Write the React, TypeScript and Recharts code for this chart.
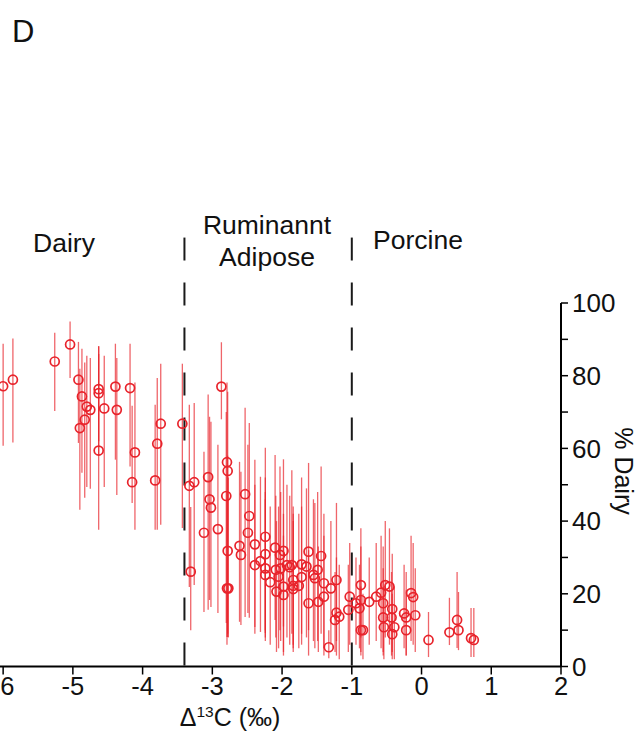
import React from "react"
import { ScatterChart, Scatter, XAxis, YAxis, ErrorBar, ReferenceLine } from "recharts"

const FONT = "'Liberation Sans', Arial, Helvetica, sans-serif"
const RED = "#e8232b"

// Δ13C (‰) per sample
const xs = [
  -6.0, -5.86, -5.26, -5.04, -4.92, -4.87, -4.8, -4.75, -4.83, -4.9, -4.63, -4.63, -4.63, -4.55, -4.39, -4.37, -4.18, -4.11,
  -4.15, -3.82, -3.79, -3.74, -3.43,
  -2.87, -3.33, -3.26, -3.31, -3.06, -3.04, -3.02, -3.12, -2.92, -2.79, -2.78, -2.8, -2.78, -2.79, -2.77, -2.53, -2.47, -2.49,
  -2.61, -2.59, -2.39, -2.24, -2.39, -2.31, -2.24, -2.24, -2.24, -2.17, -2.1, -2.09, -2.08, -2.03, -1.98, -2.02, -2.05, -1.98,
  -1.98, -1.93, -1.86, -1.89, -1.84, -1.84, -1.84, -1.76, -1.72, -1.65, -1.72, -1.62, -1.62, -1.55, -1.53, -1.49, -1.44, -1.48,
  -1.4, -1.4, -1.3, -1.22, -1.22, -1.18, -1.24, -1.33,
  -1.03, -1.05, -0.94, -0.89, -0.87, -0.87, -0.87, -0.84, -0.75, -0.65, -0.58, -0.55, -0.52, -0.46, -0.55, -0.54, -0.42, -0.43,
  -0.39, -0.42, -0.25, -0.22, -0.22, -0.09, -0.15, -0.12, 0.1, 0.4, 0.51, 0.53, 0.71, 0.75,
]

// % Dairy estimate
const ys = [
  77.1, 78.9, 83.9, 88.6, 78.9, 74.3, 71.5, 70.6, 67.9, 65.6, 76.3, 75.2, 59.4, 71.0, 77.0, 70.6, 76.6, 58.9,
  50.7, 51.2, 61.3, 66.8, 66.8,
  77.0, 49.7, 50.7, 26.1, 52.1, 46.0, 43.7, 36.8, 37.8, 56.2, 53.8, 46.9, 31.8, 21.5, 21.5, 47.4, 41.4, 36.8,
  33.2, 30.7, 33.6, 35.7, 27.9, 29.0, 30.9, 27.0, 25.2, 23.2, 32.7, 26.6, 20.6, 30.7, 31.8, 27.0, 24.7, 22.0,
  19.7, 27.9, 27.9, 27.3, 23.8, 22.2, 21.3, 22.2, 28.1, 27.5, 24.6, 31.6, 17.4, 25.2, 24.3, 26.6, 30.4, 17.8,
  22.9, 19.2, 21.5, 23.8, 14.8, 13.7, 12.8, 5.3,
  19.2, 15.6, 17.4, 16.0, 22.4, 18.3, 10.0, 10.0, 17.8, 19.2, 20.3, 17.4, 22.4, 22.0, 13.5, 10.8, 15.8, 13.5,
  10.8, 8.9, 14.6, 13.5, 10.0, 14.1, 20.2, 19.1, 7.3, 9.4, 12.8, 10.0, 7.8, 7.3,
]

// lower end of the range
const lows = [
  60.7, 61.6, 70.3, 79.4, 61.5, 53.3, 49.4, 48.9, 46.4, 43.1, 58, 62, 37.6, 49.4, 56.9, 47.2, 55.0, 37.6,
  45.0, 37.6, 37.6, 39.0, 38.1,
  68.0, 21.9, 22.4, 10.0, 15.6, 18.3, 16.4, 15.0, 14.7, 8.1, 8.1, 12, 9, 6, 8, 13.6, 13.4, 14.7,
  12.3, 11.4, 10.9, 9.2, 9, 9.5, 10, 8, 7, 6, 12.8, 8, 4, 10, 11, 7, 5, 4,
  3, 8, 9, 6, 5, 6, 4, 5, 9, 8, 6, 10, 3, 7, 5, 7, 9, 4,
  5, 3, 6, 7, 3, 2, 4, 2.3,
  6, 4, 6, 5, 8, 4, 3, 2, 6, 7, 5, 4, 8, 6, 3, 2, 4, 3,
  2, 2, 5, 3, 3, 4, 7, 6, 2.6, 5.9, 5.1, 4.5, 2.6, 2.6,
]

// upper end of the range
const highs = [
  88.8, 90.2, 91.8, 94.9, 89.3, 87.4, 85.5, 84.9, 83.6, 81.9, 88, 86, 88.2, 85.5, 88.8, 84.9, 88.8, 78.1,
  71.7, 72.0, 79.4, 83.3, 83.3,
  89.2, 72.0, 72.5, 43.9, 74.8, 68.7, 67.3, 59.1, 61.0, 78.1, 75.6, 70, 58, 48, 52, 71.2, 67.0, 61.0,
  56.3, 53.6, 56.9, 60.2, 50, 52.2, 52, 48, 46, 44, 58.2, 47, 40, 55, 57, 48, 44, 42,
  36, 50, 54, 47, 44, 42, 40, 42, 52, 49, 44, 56, 32, 46, 45, 48, 55, 33,
  42, 36, 40, 45, 30, 28, 26, 10.0,
  34, 28, 30, 28, 38, 33, 22, 20, 30, 34, 36, 33, 40, 38, 27, 22, 31, 26,
  22, 20, 28, 26, 21, 27, 36, 34, 15.0, 18.9, 26.0, 20.5, 16.1, 16.1,
]

const xTicks = [-6, -5, -4, -3, -2, -1, 0, 1, 2]
const yTicks = [0, 10, 20, 30, 40, 50, 60, 70, 80, 90, 100]
const boundaries = [-3.4, -1.0]

const points = xs.map((x, i) => ({ x, y: ys[i], err: [ys[i] - lows[i], highs[i] - ys[i]] }))

function Ring(props: any) {
  return <circle cx={props.cx} cy={props.cy} r={4.5} fill="none" stroke={RED} strokeWidth={1.7} />
}

function YTick(props: any) {
  const { x, y, payload } = props
  if (payload.value % 20 !== 0) return <g />
  return (
    <text x={x} y={y} dy="0.36em" textAnchor="start" fontSize={26} fill="#111" fontFamily={FONT}>
      {payload.value}
    </text>
  )
}

export default function App() {
  const txt = { fontFamily: FONT, fill: "#111" }
  return (
    <div style={{ position: "absolute", left: 0, top: 0, width: 641, height: 737, background: "#fff" }}>
      <ScatterChart width={641} height={737} margin={{ top: 303, right: 0, bottom: 0, left: 0 }}>
        <XAxis
          type="number"
          dataKey="x"
          domain={[-6.045, 2]}
          ticks={xTicks}
          interval={0}
          height={70.5}
          tickSize={8}
          axisLine={{ stroke: "#000", strokeWidth: 2 }}
          tickLine={{ stroke: "#000", strokeWidth: 1.5 }}
          tick={{ fontSize: 25.5, fill: "#111", fontFamily: FONT }}
        />
        <YAxis
          type="number"
          dataKey="y"
          orientation="right"
          domain={[0, 100]}
          ticks={yTicks}
          interval={0}
          width={80}
          tickSize={7}
          tickMargin={4}
          axisLine={{ stroke: "#000", strokeWidth: 2 }}
          tickLine={{ stroke: "#000", strokeWidth: 1.5 }}
          tick={<YTick />}
        />
        {boundaries.map((b) => (
          <ReferenceLine
            key={b}
            segment={[{ x: b, y: 118 }, { x: b, y: 0 }]}
            ifOverflow="visible"
            stroke="#1a1a1a"
            strokeWidth={2}
            strokeDasharray="23 22"
          />
        ))}
        <Scatter data={points} shape={<Ring />} isAnimationActive={false}>
          <ErrorBar dataKey="err" direction="y" width={0} stroke={RED} strokeWidth={1.3} strokeOpacity={0.7} isAnimationActive={false} />
        </Scatter>
      </ScatterChart>
      <svg width={641} height={737} style={{ position: "absolute", left: 0, top: 0, pointerEvents: "none" }}>
        <text x={12} y={42} fontSize={31} {...txt}>D</text>
        <text x={64} y={252} fontSize={26.5} textAnchor="middle" {...txt}>Dairy</text>
        <text x={267} y={234} fontSize={26.5} textAnchor="middle" {...txt}>Ruminannt</text>
        <text x={267} y={266} fontSize={26.5} textAnchor="middle" {...txt}>Adipose</text>
        <text x={418} y={249} fontSize={26.5} textAnchor="middle" {...txt}>Porcine</text>
        <text x={230} y={726} fontSize={25} textAnchor="middle" {...txt}>
          Δ<tspan fontSize={15.5} dy={-9}>13</tspan>
          <tspan dy={9}>C (‰)</tspan>
        </text>
        <text
          x={624}
          y={471}
          fontSize={25}
          textAnchor="middle"
          dominantBaseline="central"
          transform="rotate(90 624 471)"
          {...txt}
        >
          % Dairy
        </text>
      </svg>
    </div>
  )
}
